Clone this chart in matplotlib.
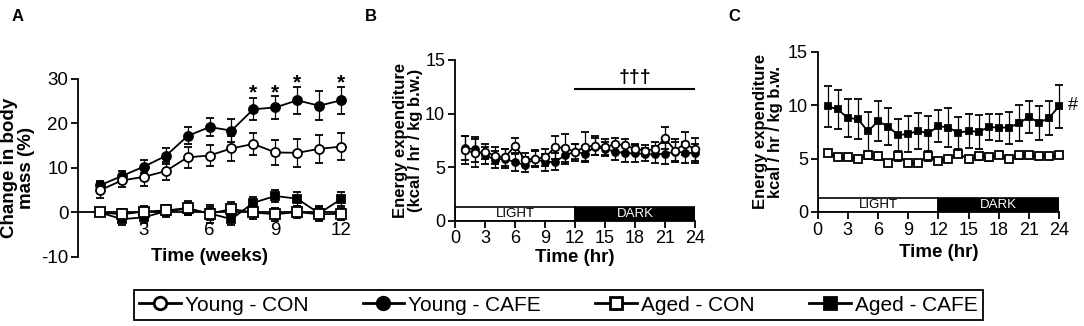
import matplotlib
matplotlib.use('Agg')
import matplotlib.pyplot as plt
from matplotlib.patches import Rectangle
from matplotlib.lines import Line2D

plt.rcParams['font.family'] = ['Liberation Sans', 'DejaVu Sans']
plt.rcParams['axes.unicode_minus'] = False

# ---------------- data ----------------
weeks = [1, 2, 3, 4, 5, 6, 7, 8, 9, 10, 11, 12]
young_con_A = [5.0, 7.2, 8.0, 9.3, 12.4, 12.8, 14.4, 15.4, 13.5, 13.4, 14.3, 14.8]
young_con_A_err = [1.7, 1.5, 2.0, 2.1, 2.4, 2.3, 2.8, 2.5, 2.8, 3.2, 3.2, 3.1]
young_cafe_A = [6.1, 8.2, 10.3, 12.7, 17.2, 19.2, 18.4, 23.2, 23.6, 25.2, 24.0, 25.2]
young_cafe_A_err = [1.0, 1.1, 1.5, 1.9, 1.9, 2.1, 2.6, 2.5, 2.5, 3.0, 3.2, 3.0]
aged_con_A = [0.0, -0.4, 0.2, 0.45, 1.0, -0.3, 0.8, 0.0, -0.4, 0.1, -0.4, -0.3]
aged_con_A_err = [0.3, 1.2, 1.2, 1.3, 1.6, 2.0, 1.5, 1.4, 1.5, 1.3, 1.6, 1.4]
aged_cafe_A = [0.0, -1.5, -1.1, 0.3, 0.8, -0.2, -1.5, 2.2, 3.7, 3.1, -0.2, 3.0]
aged_cafe_A_err = [0.3, 1.3, 1.2, 1.3, 1.4, 1.5, 1.2, 1.2, 1.3, 1.6, 1.6, 1.5]
stars_weeks = [8, 9, 10, 12]
stars_y = [25.6, 25.6, 27.9, 27.9]

hours = list(range(1, 25))
young_con_B = [6.6, 6.3, 6.45, 6.05, 5.9, 7.0, 5.7, 5.8, 5.9, 6.85, 6.8, 6.4,
               6.9, 7.0, 6.85, 7.15, 7.05, 6.7, 6.55, 6.7, 7.7, 6.55, 7.2, 6.65]
young_con_B_err = [1.3, 1.3, 0.7, 0.8, 0.8, 0.7, 0.6, 0.8, 0.8, 1.1, 1.3, 0.8,
                   1.4, 0.9, 0.8, 0.6, 0.6, 0.5, 0.5, 0.6, 1.0, 1.1, 1.1, 1.1]
young_cafe_B = [6.8, 6.65, 6.1, 5.7, 5.8, 5.45, 5.2, 5.8, 5.45, 5.5, 6.1, 6.45,
                6.25, 6.9, 6.7, 6.45, 6.3, 6.3, 6.2, 6.2, 6.25, 6.45, 6.35, 6.3]
young_cafe_B_err = [1.1, 1.2, 0.8, 0.8, 0.9, 0.8, 0.7, 0.7, 0.8, 0.8, 0.8, 0.7,
                    0.7, 0.8, 0.6, 0.8, 0.8, 0.8, 0.6, 0.8, 1.0, 0.9, 1.0, 0.9]

aged_con_C = [5.5, 5.1, 5.1, 5.0, 5.3, 5.2, 4.6, 5.2, 4.6, 4.55, 5.2, 4.8,
              5.0, 5.4, 5.0, 5.2, 5.1, 5.3, 5.0, 5.3, 5.3, 5.25, 5.25, 5.3]
aged_con_C_err = [0.3, 0.2, 0.2, 0.2, 0.3, 0.3, 0.2, 0.4, 0.2, 0.2, 0.4, 0.2,
                  0.2, 0.2, 0.2, 0.3, 0.3, 0.2, 0.2, 0.3, 0.2, 0.2, 0.2, 0.2]
aged_cafe_C = [9.9, 9.6, 8.8, 8.7, 7.55, 8.5, 8.0, 7.2, 7.3, 7.6, 7.35, 8.05,
               7.9, 7.4, 7.6, 7.5, 7.95, 7.9, 7.9, 8.3, 8.9, 8.35, 8.8, 9.9]
aged_cafe_C_err = [1.9, 1.8, 1.8, 1.9, 1.8, 1.9, 1.7, 1.5, 1.7, 1.7, 1.6, 1.5,
                   1.8, 1.5, 1.6, 1.6, 1.2, 1.3, 1.5, 1.7, 1.5, 1.6, 1.6, 2.0]

legend_labels = ['Young - CON', 'Young - CAFE', 'Aged - CON', 'Aged - CAFE']

# ---------------- figure ----------------
fig = plt.figure(figsize=(10.84, 3.26), dpi=100)

LW = 1.3


def style_axis(ax, tick_fs):
    ax.spines['top'].set_visible(False)
    ax.spines['right'].set_visible(False)
    for s in ('left', 'bottom'):
        ax.spines[s].set_linewidth(1.3)
    ax.tick_params(direction='out', length=5, width=1.3, labelsize=tick_fs, pad=2)


def series(ax, x, y, e, marker, filled, ms, z):
    ax.errorbar(x, y, yerr=e, fmt='-' + marker, color='black', lw=LW,
                ms=ms, mew=1.3, mfc='black' if filled else 'white', mec='black',
                ecolor='black', elinewidth=0.9, capsize=3, capthick=0.9,
                clip_on=False, zorder=z)


# Panel A
axA = fig.add_axes([0.072, 0.2117, 0.2426, 0.546])
style_axis(axA, 13.5)
axA.set_xlim(0, 12)
axA.set_ylim(-10, 30)
axA.spines['bottom'].set_position(('data', 0))
axA.set_xticks([3, 6, 9, 12])
axA.set_yticks([-10, 0, 10, 20, 30])
series(axA, weeks, aged_cafe_A, aged_cafe_A_err, 's', True, 5.5, 3)
series(axA, weeks, aged_con_A, aged_con_A_err, 's', False, 6.5, 4)
series(axA, weeks, young_cafe_A, young_cafe_A_err, 'o', True, 6.5, 5)
series(axA, weeks, young_con_A, young_con_A_err, 'o', False, 6.5, 6)
for w, sy in zip(stars_weeks, stars_y):
    axA.text(w, sy, '*', ha='center', va='baseline', fontsize=15, fontweight='bold')
axA.text(6, -10, 'Time (weeks)', ha='center', va='center', fontsize=13.5, fontweight='bold')
axA.set_ylabel('Change in body\nmass (%)', fontsize=13.5, fontweight='bold',
               linespacing=1.0)
axA.yaxis.set_label_coords(-0.163, 0.5)
fig.text(0.016, 0.948, 'A', fontsize=12, fontweight='bold', ha='center', va='center')


def light_dark(ax, top):
    ax.add_patch(Rectangle((0, 0), 12, top, facecolor='white', edgecolor='black', lw=1.2, zorder=2))
    ax.add_patch(Rectangle((12, 0), 12, top, facecolor='black', edgecolor='black', lw=1.2, zorder=2))
    ax.text(6, top / 2, 'LIGHT', ha='center', va='center', fontsize=9.5, color='black', zorder=3)
    ax.text(18, top / 2, 'DARK', ha='center', va='center', fontsize=9.5, color='white', zorder=3)


# Panel B
axB = fig.add_axes([0.4197, 0.323, 0.2215, 0.493])
style_axis(axB, 13)
axB.set_xlim(0, 24)
axB.set_ylim(0, 15)
axB.set_xticks(range(0, 25, 3))
axB.set_yticks([0, 5, 10, 15])
light_dark(axB, 1.25)
series(axB, hours, young_cafe_B, young_cafe_B_err, 'o', True, 5, 5)
series(axB, hours, young_con_B, young_con_B_err, 'o', False, 5.5, 6)
axB.plot([12, 24], [12.3, 12.3], color='black', lw=1.5)
axB.text(18, 12.6, '\u2020\u2020\u2020', ha='center', va='bottom', fontsize=14, fontweight='bold')
axB.set_xlabel('Time (hr)', fontsize=13.5, fontweight='bold', labelpad=1)
axB.set_ylabel('Energy expenditure\n(kcal / hr / kg b.w.)', fontsize=12, fontweight='bold',
               linespacing=1.0)
axB.yaxis.set_label_coords(-0.133, 0.5)
fig.text(0.342, 0.948, 'B', fontsize=12, fontweight='bold', ha='center', va='center')

# Panel C
axC = fig.add_axes([0.7543, 0.3497, 0.2227, 0.4917])
style_axis(axC, 13)
axC.set_xlim(0, 24)
axC.set_ylim(0, 15)
axC.set_xticks(range(0, 25, 3))
axC.set_yticks([0, 5, 10, 15])
light_dark(axC, 1.28)
series(axC, hours, aged_cafe_C, aged_cafe_C_err, 's', True, 5, 5)
series(axC, hours, aged_con_C, aged_con_C_err, 's', False, 5.5, 6)
axC.text(25.4, 10, '#', ha='center', va='center', fontsize=13, clip_on=False)
axC.set_xlabel('Time (hr)', fontsize=13.5, fontweight='bold', labelpad=4)
axC.set_ylabel('Energy expenditure\nkcal / hr / kg b.w.', fontsize=12, fontweight='bold',
               linespacing=1.0)
axC.yaxis.set_label_coords(-0.144, 0.5)
fig.text(0.677, 0.948, 'C', fontsize=12, fontweight='bold', ha='center', va='center')

# Legend
handles = [
    Line2D([], [], color='black', lw=2, marker='o', ms=9, mfc='white', mec='black', mew=2),
    Line2D([], [], color='black', lw=2, marker='o', ms=9, mfc='black', mec='black', mew=2),
    Line2D([], [], color='black', lw=2, marker='s', ms=9, mfc='white', mec='black', mew=2),
    Line2D([], [], color='black', lw=2, marker='s', ms=9, mfc='black', mec='black', mew=2),
]
leg = fig.legend(handles, legend_labels, ncol=4, loc='center', bbox_to_anchor=(0.515, 0.0644),
                 fontsize=15, frameon=True, fancybox=False, framealpha=1, edgecolor='black',
                 handlelength=2.0, handletextpad=0.2, columnspacing=2.6, borderpad=0.25,
                 borderaxespad=0)
leg.get_frame().set_linewidth(1.3)

fig.savefig('out.png', dpi=100)
